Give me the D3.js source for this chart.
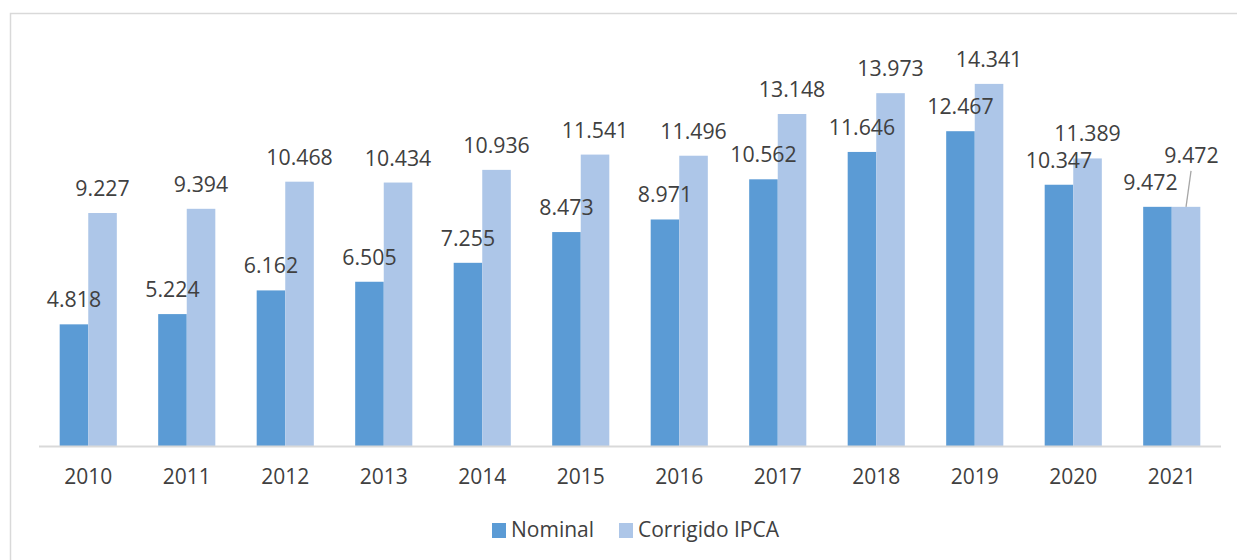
<!DOCTYPE html>
<html lang="pt">
<head>
    <meta charset="UTF-8">
    <title>Nominal x Corrigido IPCA</title>
    <style>
        body { margin: 0; background: #fff; }
        text {
            font-family: 'Open Sans', sans-serif;
            fill: #404040;
        }
        .value { font-size: 21.3px; }
        .axis text { font-size: 21px; fill: #404040; }
        .legend text { font-size: 21px; }
    </style>
</head>
<body>
<script src="https://d3js.org/d3.v7.min.js"></script>
<script>

    const years = ['2010', '2011', '2012', '2013', '2014', '2015', '2016', '2017', '2018', '2019', '2020', '2021'];
    const nominal = [4818, 5224, 6162, 6505, 7255, 8473, 8971, 10562, 11646, 12467, 10347, 9472];
    const corrigido = [9227, 9394, 10468, 10434, 10936, 11541, 11496, 13148, 13973, 14341, 11389, 9472];
    const seriesNames = ['Nominal', 'Corrigido IPCA'];
    const colour = {'Nominal': '#5B9BD5', 'Corrigido IPCA': '#ADC6E8'};

    const size = {'width': 1237, 'height': 560};
    const plot = {'left': 39, 'right': 1221, 'top': 42, 'bottom': 446};

    const fmt = d3.formatLocale({'decimal': ',', 'thousands': '.', 'grouping': [3], 'currency': ['R$', '']}).format(',d');

    let svg = d3.select('body').append('svg')
        .attr('width', size.width)
        .attr('height', size.height);

    // chart frame
    svg.append('rect')
        .attr('x', 10.5)
        .attr('y', 13.5)
        .attr('width', size.width)
        .attr('height', size.height)
        .style('fill', 'none')
        .style('stroke', '#D9D9D9')
        .style('stroke-width', 1.5);

    let x = d3.scaleBand()
        .domain(years)
        .range([plot.left, plot.right])
        .paddingInner(0.42)
        .paddingOuter(0.21);

    let xInner = d3.scaleBand()
        .domain(seriesNames)
        .range([0, x.bandwidth()]);

    let y = d3.scaleLinear()
        .domain([0, 16000])
        .range([plot.bottom, plot.top]);

    let rows = years.map(function(yr, i) {
        return {'year': yr, 'values': [
            {'name': 'Nominal', 'value': nominal[i]},
            {'name': 'Corrigido IPCA', 'value': corrigido[i]}
        ]};
    });

    let groups = svg.append('g').selectAll('g')
        .data(rows)
        .enter().append('g')
        .attr('transform', function(d) { return 'translate(' + x(d.year) + ',0)'; });

    groups.selectAll('rect')
        .data(function(d) { return d.values; })
        .enter().append('rect')
        .attr('x', function(d) { return xInner(d.name); })
        .attr('y', function(d) { return y(d.value); })
        .attr('width', xInner.bandwidth())
        .attr('height', function(d) { return y(0) - y(d.value); })
        .style('fill', function(d) { return colour[d.name]; });

    // axis
    let axis = svg.append('g')
        .attr('class', 'axis')
        .attr('transform', 'translate(0,' + plot.bottom + ')')
        .call(d3.axisBottom(x).tickSize(0).tickPadding(23));
    axis.select('.domain')
        .attr('d', 'M' + plot.left + ',0.5H' + plot.right)
        .style('stroke', '#D9D9D9')
        .style('stroke-width', 2);

    // value labels
    groups.each(function(d) {
        let g = d3.select(this);
        let pair = d.values;
        let clash = pair[0].value === pair[1].value;
        pair.forEach(function(v, vi) {
            let cx = xInner(v.name) + xInner.bandwidth() / 2;
            let ty = y(v.value) - 17;
            if (clash && vi === 0) {
                cx -= 7;
            }
            // equal values: move the second label up with a leader line
            if (clash && vi === 1) {
                let lx = cx + 5.5, ly = ty - 27;
                g.append('line')
                    .attr('x1', cx + 5)
                    .attr('y1', ly + 8)
                    .attr('x2', cx)
                    .attr('y2', y(v.value))
                    .style('stroke', '#A6A6A6')
                    .style('stroke-width', 1.3);
                cx = lx; ty = ly;
            }
            g.append('text')
                .attr('class', 'value')
                .attr('x', cx)
                .attr('y', ty)
                .attr('text-anchor', 'middle')
                .text(fmt(v.value));
        });
    });

    // legend
    let legend = svg.append('g')
        .attr('class', 'legend')
        .attr('transform', 'translate(492,523)');
    let legendX = [0, 127];
    seriesNames.forEach(function(name, i) {
        let item = legend.append('g').attr('transform', 'translate(' + legendX[i] + ',0)');
        item.append('rect')
            .attr('width', 14)
            .attr('height', 15)
            .style('fill', colour[name]);
        item.append('text')
            .attr('x', 19)
            .attr('y', 14)
            .text(name);
    });

</script>
</body>
</html>
